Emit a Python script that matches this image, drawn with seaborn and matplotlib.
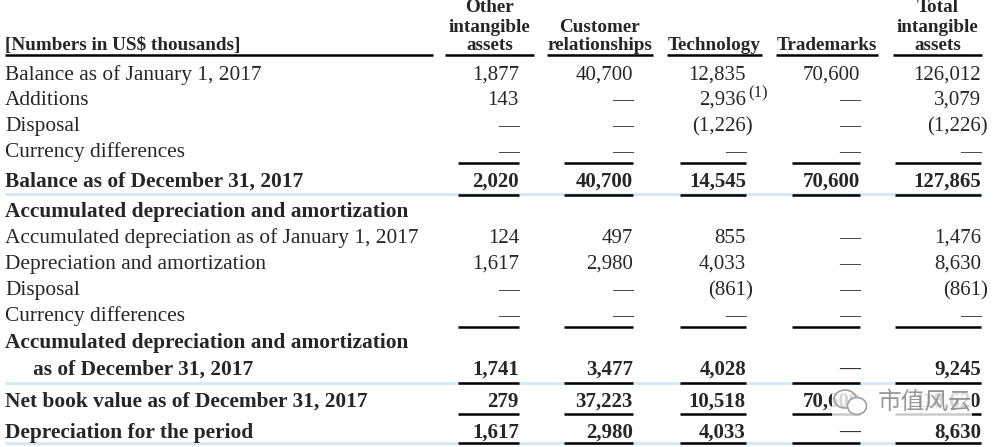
import matplotlib.pyplot as plt
import seaborn as sns
from matplotlib.patches import Ellipse, FancyBboxPatch

# table content
header_note = "[Numbers in US$ thousands]"
col_headers = [
    ["Other", "intangible", "assets"],
    ["", "Customer", "relationships"],
    ["", "", "Technology"],
    ["", "", "Trademarks"],
    ["Total", "intangible", "assets"],
]
row_labels = [
    "Balance as of January 1, 2017",
    "Additions",
    "Disposal",
    "Currency differences",
    "Balance as of December 31, 2017",
    "Accumulated depreciation and amortization",
    "Accumulated depreciation as of January 1, 2017",
    "Depreciation and amortization",
    "Disposal",
    "Currency differences",
    "Accumulated depreciation and amortization",
    "as of December 31, 2017",
    "Net book value as of December 31, 2017",
    "Depreciation for the period",
]
row_bold = [False, False, False, False, True, True, False, False, False, False, True, True, True, True]
other_intangible = ["1,877", "143", "—", "—", "2,020", "", "124", "1,617", "—", "—", "", "1,741", "279", "1,617"]
customer_rel = ["40,700", "—", "—", "—", "40,700", "", "497", "2,980", "—", "—", "", "3,477", "37,223", "2,980"]
technology = ["12,835", "2,936", "(1,226)", "—", "14,545", "", "855", "4,033", "(861)", "—", "", "4,028", "10,518", "4,033"]
trademarks = ["70,600", "—", "—", "—", "70,600", "", "—", "—", "—", "—", "", "—", "70,600", "—"]
total = ["126,012", "3,079", "(1,226)", "—", "127,865", "", "1,476", "8,630", "(861)", "—", "", "9,245", "118,620", "8,630"]
footnote_mark = {(1, 2): "(1)"}
watermark = "市值风云"

columns = [other_intangible, customer_rel, technology, trademarks, total]

# layout (pixels)
W, H = 1008, 447
col_right = [519, 633, 746, 860, 981]
head_rule = [(445, 534), (547, 653), (667, 762), (776, 878), (893, 982)]
sum_rule = [(458, 519), (564, 633), (680, 746), (792, 860), (895, 981)]
baselines = [80, 105, 131, 157, 187, 217, 243, 269, 295, 321, 348, 375, 407, 438]
indent = {11: 28}
BLUE = "#d8e8f4"

sns.set_theme(style="white")
plt.rcParams["font.family"] = ["Liberation Serif", "DejaVu Serif"]

fig = plt.figure(figsize=(W / 100, H / 100), dpi=100)
ax = fig.add_axes([0, 0, 1, 1])
ax.set_xlim(0, W)
ax.set_ylim(H, 0)
ax.axis("off")

FS_LABEL = 15.4
FS_NUM = 15


def hline(y, x0, x1, color="black", lw=1.8, z=3):
    ax.plot([x0, x1], [y, y], color=color, lw=lw, solid_capstyle="butt", zorder=z)


# headers
ax.text(5, 50, header_note, fontsize=13.8, fontweight="bold", va="baseline", ha="left")
hline(55, 5, 433)
for (x0, x1), lines in zip(head_rule, col_headers):
    cx = (x0 + x1) / 2
    for y, t in zip([12, 32, 50], lines):
        if t:
            ax.text(cx, y, t, fontsize=13.8, fontweight="bold", va="baseline", ha="center")
    hline(55, x0, x1)

# rows
for i, (lab, b, yb) in enumerate(zip(row_labels, row_bold, baselines)):
    ax.text(5 + indent.get(i, 0), yb, lab, fontsize=FS_LABEL, va="baseline", ha="left",
            fontweight="bold" if b else "normal")
    for j, col in enumerate(columns):
        v = col[i]
        if not v:
            continue
        x = col_right[j] + (7 if v.startswith("(") else 0)
        ax.text(x, yb, v, fontsize=FS_NUM, va="baseline", ha="right",
                fontweight="bold" if b else "normal")
        if (i, j) in footnote_mark:
            ax.text(x + 2, yb - 8, footnote_mark[(i, j)], fontsize=12, va="baseline", ha="left")

# rules
for y in [163, 327]:
    for x0, x1 in sum_rule:
        hline(y, x0, x1)
for y in [194, 383, 443]:
    hline(y, 5, 982, color=BLUE, lw=2.2, z=2)
for y in [195, 383, 414, 443]:
    for x0, x1 in sum_rule:
        hline(y, x0, x1)

# watermark
ax.add_patch(FancyBboxPatch((834, 390), 136, 26, boxstyle="round,pad=2",
                            fc="white", ec="none", alpha=0.8, zorder=5))
ax.add_patch(Ellipse((845, 399), 22, 18, fc="none", ec="#a0a0a0", lw=1.2, zorder=6))
ax.add_patch(Ellipse((857, 406), 19, 17, fc="white", ec="#a0a0a0", lw=1.2, zorder=6))
ax.text(878, 402, watermark, fontsize=17, color="#8c8c8c", va="center", ha="left",
        family=["Noto Sans CJK SC", "DejaVu Sans"], alpha=0.9, zorder=7)

fig.savefig("out.png", dpi=100)
